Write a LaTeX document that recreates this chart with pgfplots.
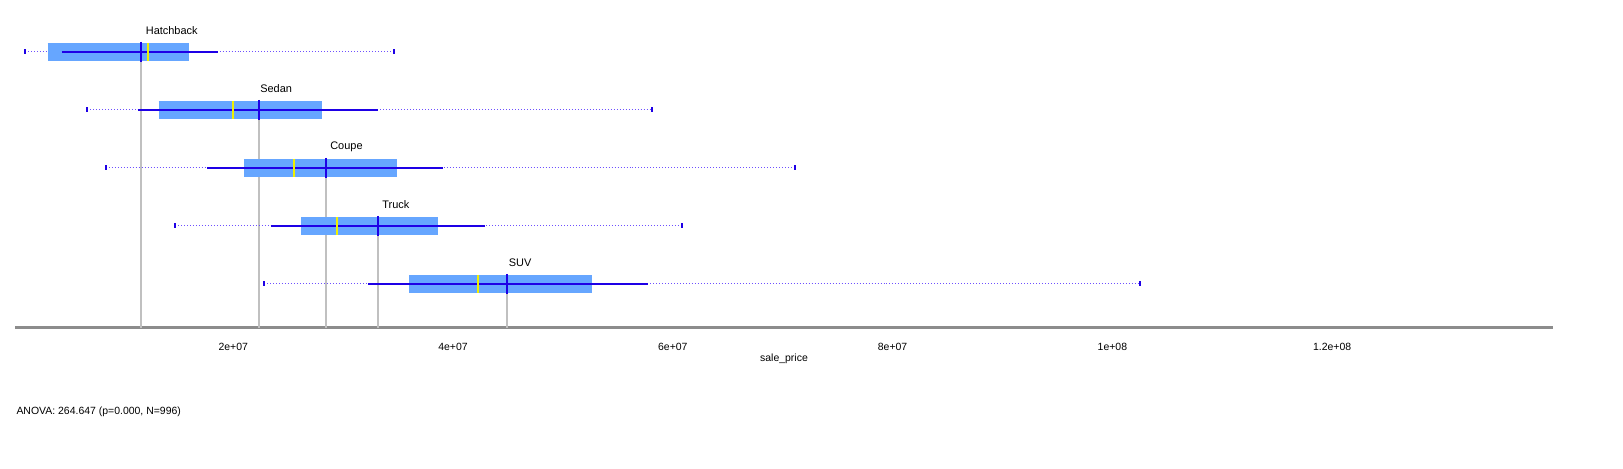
\documentclass[border=0pt]{standalone}
\usepackage{pgfplots}
\pgfplotsset{compat=1.18}
\usepackage{fontspec}
\setmainfont{Liberation Sans}
\definecolor{boxb}{RGB}{102,166,255}
\definecolor{lineb}{RGB}{30,0,230}
\definecolor{dotb}{RGB}{110,80,255}
\definecolor{med}{RGB}{240,240,0}
\definecolor{gl}{RGB}{192,192,192}
\begin{document}
\begin{tikzpicture}[x=1bp,y=1bp]
\useasboundingbox (0,0) rectangle (1623,469);
\fill[white] (0,0) rectangle (1623,469);
\begin{axis}[at={(15bp,141bp)},anchor=south west,scale only axis,
 width=1538bp,height=328bp,xmin=0.137,xmax=140.1,ymin=141,ymax=469,
 axis x line=bottom, axis y line=none, x axis line style={-,line width=3bp,color=gray!90},
 xtick={20,40,60,80,100,120},xticklabels={2e+07,4e+07,6e+07,8e+07,1e+08,1.2e+08},
 major tick length=0pt, xticklabel style={font=\fontsize{10.5}{12}\selectfont,yshift=-12bp},
 xlabel={sale\_price}, xlabel style={font=\fontsize{10.5}{12}\selectfont,yshift=4bp},
 clip=false]
% gray lines
\addplot[gl,line width=2bp] coordinates {(11.6,408)(11.6,141)};
\addplot[gl,line width=2bp] coordinates {(22.3,350)(22.3,141)};
\addplot[gl,line width=2bp] coordinates {(28.4,292)(28.4,141)};
\addplot[gl,line width=2bp] coordinates {(33.2,234)(33.2,141)};
\addplot[gl,line width=2bp] coordinates {(44.9,176)(44.9,141)};
% dotted whiskers
\addplot[dotb,dotted,line width=1bp,mark=|,mark size=2.5bp,mark options={solid,lineb,line width=2bp}] coordinates {(1.05,417)(34.6,417)};
\addplot[dotb,dotted,line width=1bp,mark=|,mark size=2.5bp,mark options={solid,lineb,line width=2bp}] coordinates {(6.7,359)(58.1,359)};
\addplot[dotb,dotted,line width=1bp,mark=|,mark size=2.5bp,mark options={solid,lineb,line width=2bp}] coordinates {(8.4,301)(71.1,301)};
\addplot[dotb,dotted,line width=1bp,mark=|,mark size=2.5bp,mark options={solid,lineb,line width=2bp}] coordinates {(14.7,243)(60.8,243)};
\addplot[dotb,dotted,line width=1bp,mark=|,mark size=2.5bp,mark options={solid,lineb,line width=2bp}] coordinates {(22.8,185)(102.5,185)};
% boxes
\addplot[boxb,line width=18bp] coordinates {(3.1,417)(16.0,417)};
\addplot[boxb,line width=18bp] coordinates {(13.2,359)(28.1,359)};
\addplot[boxb,line width=18bp] coordinates {(21.0,301)(34.9,301)};
\addplot[boxb,line width=18bp] coordinates {(26.2,243)(38.6,243)};
\addplot[boxb,line width=18bp] coordinates {(36.0,185)(52.6,185)};
% solid whiskers
\addplot[lineb,line width=2bp] coordinates {(4.4,417)(18.6,417)};
\addplot[lineb,line width=2bp] coordinates {(11.3,359)(33.2,359)};
\addplot[lineb,line width=2bp] coordinates {(17.6,301)(39.1,301)};
\addplot[lineb,line width=2bp] coordinates {(23.4,243)(42.9,243)};
\addplot[lineb,line width=2bp] coordinates {(32.3,185)(57.7,185)};
% medians
\addplot[only marks,mark=|,mark size=9bp,mark options={med,line width=2bp}] coordinates {(12.2,417)(20.0,359)(25.5,301)(29.4,243)(42.3,185)};
% means
\addplot[only marks,mark=|,mark size=10bp,mark options={lineb,line width=2bp}] coordinates {(11.6,417)(22.3,359)(28.4,301)(33.2,243)(44.9,185)};
\foreach \x/\y/\t in {14.4/438/Hatchback,23.9/380/Sedan,30.3/322/Coupe,34.8/264/Truck,46.1/206/SUV}
  {\edef\tmp{\noexpand\node[font=\noexpand\fontsize{11}{13}\noexpand\selectfont] at (axis cs:\x,\y) {\t};}\tmp}
\end{axis}
\node[anchor=west,font=\fontsize{10.5}{12}\selectfont] at (13,57) {ANOVA: 264.647 (p=0.000, N=996)};
\end{tikzpicture}
\end{document}
